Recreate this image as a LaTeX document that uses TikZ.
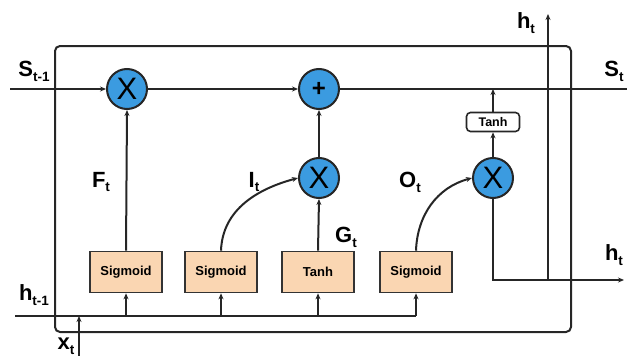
\documentclass[tikz,border=0pt]{standalone}
\usepackage{fontspec}
\setmainfont{Liberation Sans}
\usetikzlibrary{arrows.meta}
\definecolor{circblue}{HTML}{3B9BE0}
\definecolor{boxpeach}{HTML}{FAD6B2}
\newcommand\lab[2]{\fontsize{22}{22}\selectfont\bfseries #1\raisebox{-0.22em}{\fontsize{13.5}{13.5}\selectfont #2}}
\tikzset{
  ln/.style={line width=2pt, draw=black!85},
  arr/.style={ln, -{Stealth[length=6pt,width=5pt]}},
  op/.style={circle, draw=black!85, line width=2pt, fill=circblue, minimum size=40pt, inner sep=0pt},
  gate/.style={draw=black!80, line width=1.6pt, fill=boxpeach, minimum width=72pt, minimum height=41pt, inner sep=0pt, font=\fontsize{13}{13}\selectfont\bfseries},
  smallbox/.style={draw=black!85, line width=1.6pt, fill=white, rounded corners=4pt, minimum width=53pt, minimum height=19pt, inner sep=0pt, font=\fontsize{12.5}{12.5}\selectfont\bfseries},
  lbl/.style={inner sep=0pt}
}
\begin{document}
\begin{tikzpicture}[x=1pt,y=-1pt]
\useasboundingbox (0,0) rectangle (627,356);
% outer cell border
\draw[ln, rounded corners=5pt] (55,46) rectangle (571,332);
% operators
\node[op] (m1) at (127,89) {\fontsize{31}{31}\selectfont X};
\node[op] (pl) at (319,89) {\fontsize{24}{24}\selectfont\bfseries +};
\node[op] (m2) at (319,178) {\fontsize{31}{31}\selectfont X};
\node[op] (m3) at (493,178) {\fontsize{31}{31}\selectfont X};
% gates
\node[gate] (g1) at (126,272) {Sigmoid};
\node[gate] (g2) at (221,272) {Sigmoid};
\node[gate] (g3) at (318,272) {Tanh};
\node[gate] (g4) at (416,272) {Sigmoid};
\node[smallbox] (th) at (493,122) {Tanh};
% coordinates
\coordinate (sin) at (10,89);
\coordinate (sout) at (627,89);
\coordinate (sj) at (493,89);
\coordinate (hin) at (15,316);
\coordinate (hend) at (416,316);
\coordinate (xin) at (79,356);
\coordinate (xj) at (79,316);
\coordinate (c1) at (493,280);
\coordinate (c2) at (548,280);
\coordinate (htop) at (548,14);
\coordinate (hout) at (624,280);
% cell state line
\draw[arr] (sin) -- (m1);
\draw[arr] (m1) -- (pl);
\draw[ln] (pl) -- (sout);
% input line
\draw[ln] (hin) -- (hend);
\draw[arr] (xin) -- (xj);
\foreach \g in {g1,g2,g3,g4}{
  \draw[arr] (\g.south |- hin) -- (\g.south);
}
% gate outputs
\draw[arr] (g1.north) -- (m1.south);
\draw[arr] (g2.north) to[out=88,in=195] (m2.west);
\draw[arr] (g3.north) -- (m2.south);
\draw[arr] (g4.north) to[out=88,in=195] (m3.west);
\draw[arr] (m2) -- (pl);
\draw[arr] (m3) -- (th);
\draw[arr] (th) -- (sj);
% output
\draw[ln] (m3.south) -- (c1) -- (c2);
\draw[arr] (c2) -- (hout);
\draw[arr] (c2) -- (htop);
% labels
\node[lbl] (ls1) at (34,71) {\lab{S}{t-1}};
\node[lbl] (lst) at (614,71) {\lab{S}{t}};
\node[lbl] (lht) at (526,23) {\lab{h}{t}};
\node[lbl] (lho) at (614,255) {\lab{h}{t}};
\node[lbl] (lh1) at (34,295) {\lab{h}{t-1}};
\node[lbl] (lx) at (66,346) {\lab{x}{t}};
\node[lbl] (lf) at (101,182) {\lab{F}{t}};
\node[lbl] (li) at (254,182) {\lab{I}{t}};
\node[lbl] (lo) at (410,182) {\lab{O}{t}};
\node[lbl] (lg) at (346,237) {\lab{G}{t}};
\end{tikzpicture}
\end{document}
